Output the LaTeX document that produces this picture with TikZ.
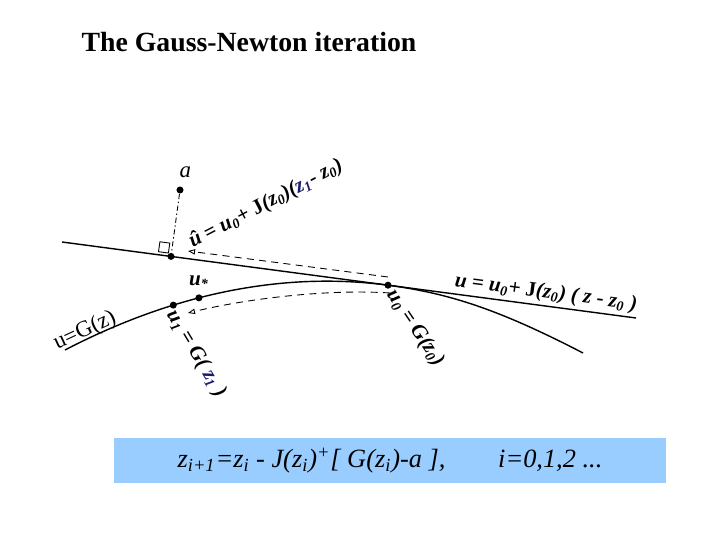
\documentclass[tikz,border=0pt]{standalone}
\usepackage{fontspec}
\setmainfont{Liberation Serif}
\usetikzlibrary{arrows.meta, positioning, calc}
\definecolor{boxblue}{RGB}{153,204,255}
\definecolor{zblue}{RGB}{28,28,110}
\newcommand{\sbs}[1]{\textsubscript{#1}}

\begin{document}
\begin{tikzpicture}[
  x=0.02cm, y=-0.02cm,
  >={Triangle[open, length=4pt, width=3pt]},
  dot/.style={circle, fill=black, inner sep=0pt, minimum size=4pt},
  curve/.style={line width=0.8pt},
  guide/.style={line width=0.5pt, dash pattern=on 4pt off 3pt},
  perp/.style={line width=0.5pt, dash pattern=on 3pt off 1.5pt on 0.8pt off 1.5pt},
  slant/.style={font=\fontsize{12}{14}\selectfont\bfseries\itshape, inner sep=0pt},
]
\useasboundingbox (0,0) rectangle (720,540);

% --- title ---
\node[anchor=base, font=\fontsize{15.8}{18}\selectfont\bfseries] (title) at (249,52) {The Gauss-Newton iteration};

% --- tangent line and the curve G ---
\coordinate (tl) at (62,242);
\coordinate (tr) at (636,318);
\draw[curve] (tl) -- (tr);
\draw[curve] (65,350) .. controls (190,285) and (300,273.5) ..
  coordinate[pos=0.3] (p1) coordinate[pos=0.375] (ps) (388,285.2)
  .. controls (450,293.4) and (500,310) .. (583,353);

% --- points ---
\node[dot] (a) at (180,190) {};
\node[dot] (foot) at (171,256.4) {};
\node[dot] (u0) at (388,285.2) {};
\node[dot] (u1) at (p1) {};
\node[dot] (ustar) at (ps) {};

% projection of a onto the line
\draw[perp] (a) -- (foot);
\draw[line width=0.5pt] ($(foot.center)+(-2.6,-3.4)$) -- ($(foot.center)+(-1.2,-13.3)$)
  -- ($(foot.center)+(-11.1,-14.6)$) -- ($(foot.center)+(-12.5,-4.7)$) -- cycle;

% --- steps ---
\coordinate (h0) at (388,277);
\coordinate (h1) at (188,251);
\draw[guide,->] (h0) -- (h1);
\coordinate (g0) at (390,293);
\coordinate (g1) at (188,313);
\draw[guide,->] (g0) .. controls (330,289) and (250,298) .. (g1);

% --- labels ---
\node[font=\fontsize{13}{15}\selectfont\itshape, above=1pt of a, xshift=3pt] (alab) {a};
\node[slant, above=3pt of ustar] (ustarlab) {u\sbs{*}};
\node[slant, rotate=27.5] (lin1) at (266,204) {û = u\sbs{0}+ {\upshape J}(z\sbs{0})({\color{zblue}z\sbs{1}}- z\sbs{0})};
\node[slant, rotate=-7.5] (lin2) at (546,293) {u = u\sbs{0}+ {\upshape J}(z\sbs{0}) ( z - z\sbs{0} )};
\node[slant, rotate=-56] (g0lab) at (415,328) {u\sbs{0} = G(z\sbs{0})};
\node[slant, rotate=-59] (g1lab) at (196,354) {u\sbs{1} = G( {\color{zblue}z\sbs{1}} )};
\node[font=\fontsize{13}{15}\selectfont, rotate=25, inner sep=0pt] (glab) at (85,331) {u=G(z)};

% --- iteration formula ---
\node[fill=boxblue, minimum width=11.04cm, minimum height=0.9cm, inner sep=0pt,
  font=\fontsize{15}{17}\selectfont\itshape] (iter) at (390,460.5)
  {z\sbs{i+1}=z\sbs{i} - J(z\sbs{i})\textsuperscript{+}[ G(z\sbs{i})-a ],\qquad i=0,1,2 ...};

\end{tikzpicture}
\end{document}
